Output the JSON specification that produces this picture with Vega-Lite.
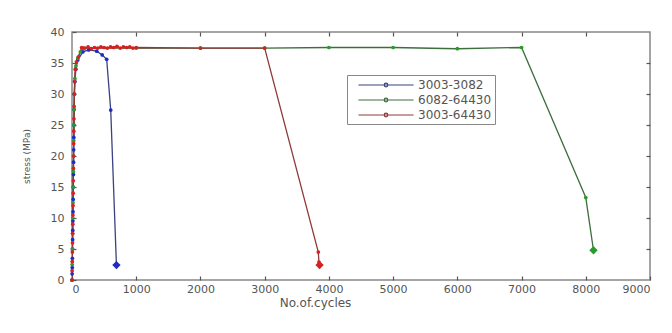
{
  "$schema": "https://vega.github.io/schema/vega-lite/v6.json",
  "width": 578,
  "height": 248,
  "autosize": {"type": "none"},
  "padding": {"left": 72, "top": 32, "right": 22, "bottom": 53},
  "background": "white",
  "config": {
    "view": {"stroke": "#888888", "strokeWidth": 1.5},
    "axis": {
      "domain": false,
      "offset": -4,
      "tickColor": "#555555",
      "tickSize": 4,
      "tickWidth": 1.2,
      "labelColor": "#555555",
      "labelFont": "DejaVu Sans",
      "labelFontSize": 11,
      "labelOverlap": false,
      "titleFont": "DejaVu Sans",
      "titleColor": "#555555",
      "titleFontWeight": "normal",
      "grid": false
    },
    "legend": {
      "labelFont": "DejaVu Sans",
      "labelFontSize": 12,
      "labelColor": "#555555"
    }
  },
  "data": {
    "values": [
      {"series": "3003-3082", "cycles": 0, "stress": 0},
      {"series": "3003-3082", "cycles": 2, "stress": 1},
      {"series": "3003-3082", "cycles": 4, "stress": 2},
      {"series": "3003-3082", "cycles": 6, "stress": 3.5},
      {"series": "3003-3082", "cycles": 8, "stress": 5},
      {"series": "3003-3082", "cycles": 10, "stress": 6.5},
      {"series": "3003-3082", "cycles": 12, "stress": 8},
      {"series": "3003-3082", "cycles": 14, "stress": 9.5},
      {"series": "3003-3082", "cycles": 16, "stress": 11},
      {"series": "3003-3082", "cycles": 18, "stress": 13},
      {"series": "3003-3082", "cycles": 20, "stress": 15},
      {"series": "3003-3082", "cycles": 22, "stress": 17},
      {"series": "3003-3082", "cycles": 24, "stress": 19},
      {"series": "3003-3082", "cycles": 26, "stress": 21},
      {"series": "3003-3082", "cycles": 28, "stress": 23},
      {"series": "3003-3082", "cycles": 30, "stress": 25},
      {"series": "3003-3082", "cycles": 33, "stress": 27.5},
      {"series": "3003-3082", "cycles": 36, "stress": 30},
      {"series": "3003-3082", "cycles": 45, "stress": 32},
      {"series": "3003-3082", "cycles": 60, "stress": 34},
      {"series": "3003-3082", "cycles": 90, "stress": 35.5},
      {"series": "3003-3082", "cycles": 170, "stress": 36.8},
      {"series": "3003-3082", "cycles": 260, "stress": 37.1},
      {"series": "3003-3082", "cycles": 385, "stress": 36.9},
      {"series": "3003-3082", "cycles": 470, "stress": 36.3},
      {"series": "3003-3082", "cycles": 540, "stress": 35.6},
      {"series": "3003-3082", "cycles": 603, "stress": 27.4},
      {"series": "3003-3082", "cycles": 692, "stress": 2.4},
      {"series": "6082-64430", "cycles": 0, "stress": 0},
      {"series": "6082-64430", "cycles": 3, "stress": 2.5},
      {"series": "6082-64430", "cycles": 6, "stress": 5},
      {"series": "6082-64430", "cycles": 9, "stress": 7.5},
      {"series": "6082-64430", "cycles": 12, "stress": 10},
      {"series": "6082-64430", "cycles": 15, "stress": 12.5},
      {"series": "6082-64430", "cycles": 18, "stress": 15},
      {"series": "6082-64430", "cycles": 21, "stress": 17.5},
      {"series": "6082-64430", "cycles": 24, "stress": 20},
      {"series": "6082-64430", "cycles": 27, "stress": 22.5},
      {"series": "6082-64430", "cycles": 30, "stress": 25},
      {"series": "6082-64430", "cycles": 34, "stress": 27.5},
      {"series": "6082-64430", "cycles": 38, "stress": 30},
      {"series": "6082-64430", "cycles": 45, "stress": 32.5},
      {"series": "6082-64430", "cycles": 60, "stress": 34.5},
      {"series": "6082-64430", "cycles": 90, "stress": 35.8},
      {"series": "6082-64430", "cycles": 130, "stress": 36.8},
      {"series": "6082-64430", "cycles": 180, "stress": 37.4},
      {"series": "6082-64430", "cycles": 1000, "stress": 37.4},
      {"series": "6082-64430", "cycles": 2000, "stress": 37.4},
      {"series": "6082-64430", "cycles": 3000, "stress": 37.4},
      {"series": "6082-64430", "cycles": 4000, "stress": 37.5},
      {"series": "6082-64430", "cycles": 5000, "stress": 37.5},
      {"series": "6082-64430", "cycles": 6000, "stress": 37.3},
      {"series": "6082-64430", "cycles": 7000, "stress": 37.5},
      {"series": "6082-64430", "cycles": 8000, "stress": 13.3},
      {"series": "6082-64430", "cycles": 8120, "stress": 4.8},
      {"series": "3003-64430", "cycles": 0, "stress": 0},
      {"series": "3003-64430", "cycles": 2, "stress": 1.5},
      {"series": "3003-64430", "cycles": 4, "stress": 3},
      {"series": "3003-64430", "cycles": 6, "stress": 4.5},
      {"series": "3003-64430", "cycles": 8, "stress": 6},
      {"series": "3003-64430", "cycles": 10, "stress": 7.5},
      {"series": "3003-64430", "cycles": 12, "stress": 9},
      {"series": "3003-64430", "cycles": 14, "stress": 10.5},
      {"series": "3003-64430", "cycles": 16, "stress": 12},
      {"series": "3003-64430", "cycles": 18, "stress": 14},
      {"series": "3003-64430", "cycles": 20, "stress": 16},
      {"series": "3003-64430", "cycles": 22, "stress": 18},
      {"series": "3003-64430", "cycles": 24, "stress": 20},
      {"series": "3003-64430", "cycles": 26, "stress": 22},
      {"series": "3003-64430", "cycles": 28, "stress": 24},
      {"series": "3003-64430", "cycles": 30, "stress": 26},
      {"series": "3003-64430", "cycles": 33, "stress": 28},
      {"series": "3003-64430", "cycles": 36, "stress": 30},
      {"series": "3003-64430", "cycles": 40, "stress": 32},
      {"series": "3003-64430", "cycles": 50, "stress": 34},
      {"series": "3003-64430", "cycles": 70, "stress": 35.2},
      {"series": "3003-64430", "cycles": 100, "stress": 36},
      {"series": "3003-64430", "cycles": 150, "stress": 37.5},
      {"series": "3003-64430", "cycles": 200, "stress": 37.4},
      {"series": "3003-64430", "cycles": 250, "stress": 37.6},
      {"series": "3003-64430", "cycles": 300, "stress": 37.3},
      {"series": "3003-64430", "cycles": 350, "stress": 37.5},
      {"series": "3003-64430", "cycles": 400, "stress": 37.4},
      {"series": "3003-64430", "cycles": 450, "stress": 37.6},
      {"series": "3003-64430", "cycles": 500, "stress": 37.5},
      {"series": "3003-64430", "cycles": 550, "stress": 37.4},
      {"series": "3003-64430", "cycles": 600, "stress": 37.6},
      {"series": "3003-64430", "cycles": 650, "stress": 37.5},
      {"series": "3003-64430", "cycles": 700, "stress": 37.7},
      {"series": "3003-64430", "cycles": 750, "stress": 37.4},
      {"series": "3003-64430", "cycles": 800, "stress": 37.6},
      {"series": "3003-64430", "cycles": 850, "stress": 37.5},
      {"series": "3003-64430", "cycles": 900, "stress": 37.6},
      {"series": "3003-64430", "cycles": 950, "stress": 37.4},
      {"series": "3003-64430", "cycles": 1000, "stress": 37.5},
      {"series": "3003-64430", "cycles": 2000, "stress": 37.4},
      {"series": "3003-64430", "cycles": 3000, "stress": 37.4},
      {"series": "3003-64430", "cycles": 3835, "stress": 4.5},
      {"series": "3003-64430", "cycles": 3845, "stress": 2.9},
      {"series": "3003-64430", "cycles": 3855, "stress": 2.4}
    ]
  },
  "resolve": {"scale": {"color": "independent", "x": "independent", "y": "independent"}, "axis": {"x": "independent", "y": "independent"}},
  "layer": [
    {
      "mark": {"type": "line", "strokeWidth": 1.3, "clip": true},
      "encoding": {
        "x": {"field": "cycles", "type": "quantitative", "scale": {"domain": [0, 9000], "nice": false},
              "axis": {"values": [0,1000,2000,3000,4000,5000,6000,7000,8000,9000], "format": "d", "labelPadding": 3, "title": "No.of.cycles", "titleFontSize": 12, "titlePadding": 3, "titleX": 243}},
        "y": {"field": "stress", "type": "quantitative", "scale": {"domain": [0, 40], "nice": false},
              "axis": {"values": [0,5,10,15,20,25,30,35,40], "labelPadding": 8, "title": "stress (MPa)", "titleColor": "#555555", "titleFontSize": 9, "titlePadding": 19}},
        "color": {"field": "series", "type": "nominal",
                  "scale": {"domain": ["3003-3082", "6082-64430", "3003-64430"], "range": ["#3a4280", "#3d6e3d", "#8f3a3a"]},
                  "legend": {"title": null, "orient": "none", "legendX": 275, "legendY": 43,
                             "symbolType": "M-4.6,0L4.6,0M-0.3,0A0.3,0.3 0 1 1 0.3,0A0.3,0.3 0 1 1 -0.3,0",
                             "symbolSize": 144, "symbolStrokeWidth": 1.2, "symbolOffset": 29, "labelOffset": 25,
                             "padding": 3, "rowPadding": 2, "strokeColor": "#888888", "fillColor": "white"}},
        "order": {"field": "cycles", "type": "quantitative"}
      }
    },
    {
      "mark": {"type": "point", "filled": true, "size": 14, "opacity": 1},
      "encoding": {
        "x": {"field": "cycles", "type": "quantitative", "scale": {"domain": [0, 9000], "nice": false},
              "axis": {"orient": "top", "values": [1000,2000,3000,4000,5000,6000,7000,8000], "labels": false, "title": null}},
        "y": {"field": "stress", "type": "quantitative", "scale": {"domain": [0, 40], "nice": false},
              "axis": {"orient": "right", "values": [5,10,15,20,25,30,35], "labels": false, "title": null}},
        "color": {"field": "series", "type": "nominal",
                  "scale": {"domain": ["3003-3082", "6082-64430", "3003-64430"], "range": ["#1c2cc8", "#2a9a2a", "#d82020"]},
                  "legend": null}
      }
    },
    {
      "transform": [
        {"joinaggregate": [{"op": "max", "field": "cycles", "as": "maxc"}], "groupby": ["series"]},
        {"filter": "datum.cycles === datum.maxc"}
      ],
      "mark": {"type": "point", "filled": true, "shape": "diamond", "size": 70, "opacity": 1},
      "encoding": {
        "x": {"field": "cycles", "type": "quantitative", "scale": {"domain": [0, 9000], "nice": false}, "axis": null},
        "y": {"field": "stress", "type": "quantitative", "scale": {"domain": [0, 40], "nice": false}, "axis": null},
        "color": {"field": "series", "type": "nominal",
                  "scale": {"domain": ["3003-3082", "6082-64430", "3003-64430"], "range": ["#1c2cc8", "#2a9a2a", "#d82020"]},
                  "legend": null}
      }
    }
  ]
}
